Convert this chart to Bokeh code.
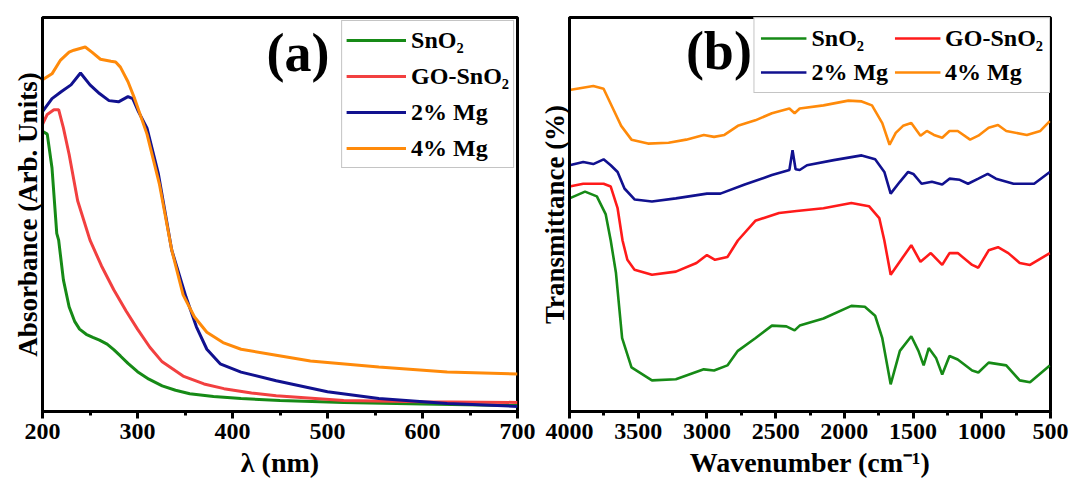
from bokeh.plotting import figure
from bokeh.layouts import row
from bokeh.models import Range1d, Label, FixedTicker
from bokeh.embed import file_html
from bokeh.resources import INLINE

# ---------------- Panel (a): UV-Vis absorbance ----------------
sno2_wl = [200, 205, 210, 215, 217, 222, 228, 234, 239, 246, 253, 260, 268, 275, 282, 290, 300, 312, 326, 340, 355, 380, 409, 450, 517, 600, 700]
sno2_abs = [0.711, 0.704, 0.618, 0.452, 0.435, 0.334, 0.266, 0.228, 0.209, 0.196, 0.188, 0.181, 0.171, 0.157, 0.141, 0.122, 0.101, 0.082, 0.065, 0.054, 0.045, 0.038, 0.033, 0.028, 0.023, 0.019, 0.015]

go_wl = [200, 205, 212, 217, 222, 228, 237, 250, 262, 275, 288, 300, 313, 326, 348, 370, 391, 420, 446, 517, 600, 700]
go_abs = [0.729, 0.754, 0.766, 0.766, 0.720, 0.653, 0.535, 0.435, 0.370, 0.309, 0.255, 0.209, 0.163, 0.126, 0.090, 0.070, 0.058, 0.047, 0.040, 0.028, 0.025, 0.023]

mg2_wl = [200, 210, 220, 230, 240, 250, 260, 270, 280, 290, 295, 301, 310, 322, 336, 351, 362, 373, 387, 409, 446, 500, 554, 626, 700]
mg2_abs = [0.761, 0.794, 0.812, 0.829, 0.859, 0.829, 0.807, 0.789, 0.786, 0.799, 0.794, 0.761, 0.719, 0.603, 0.410, 0.291, 0.215, 0.158, 0.121, 0.100, 0.078, 0.050, 0.033, 0.020, 0.013]

mg4_wl = [200, 210, 219, 228, 233, 245, 252, 261, 272, 277, 282, 290, 297, 310, 323, 336, 348, 360, 373, 390, 409, 446, 482, 554, 626, 700]
mg4_abs = [0.842, 0.857, 0.892, 0.912, 0.917, 0.925, 0.912, 0.894, 0.889, 0.887, 0.874, 0.837, 0.794, 0.704, 0.578, 0.410, 0.296, 0.240, 0.201, 0.175, 0.158, 0.143, 0.128, 0.113, 0.100, 0.095]

a_ticks = [200, 300, 400, 500, 600, 700]

# ---------------- Panel (b): FTIR transmittance ----------------
sno2_wn = [4000, 3887, 3801, 3737, 3700, 3662, 3617, 3549, 3400, 3226, 3023, 2948, 2851, 2775, 2648, 2527, 2422, 2362, 2325, 2152, 1949, 1851, 1776, 1724, 1663, 1596, 1513, 1461, 1423, 1386, 1333, 1288, 1235, 1175, 1070, 1025, 950, 822, 724, 649, 505]
sno2_t = [54.1, 55.8, 54.6, 50.1, 43.4, 35.2, 18.6, 11.2, 7.9, 8.2, 10.7, 10.4, 11.7, 15.4, 18.6, 21.8, 21.6, 20.6, 21.8, 23.6, 26.8, 26.6, 24.3, 18.6, 6.9, 15.4, 19.1, 15.4, 11.7, 16.1, 13.6, 9.4, 14.1, 13.2, 10.4, 9.9, 12.4, 11.7, 7.9, 7.4, 11.7]

go_wn = [4000, 3900, 3752, 3700, 3650, 3614, 3579, 3527, 3400, 3226, 3076, 3000, 2941, 2851, 2775, 2648, 2475, 2347, 2152, 1949, 1821, 1746, 1709, 1663, 1573, 1513, 1446, 1371, 1288, 1235, 1175, 1070, 1025, 950, 882, 807, 724, 649, 505]
go_t = [57.1, 57.8, 57.8, 57.1, 51.6, 43.4, 38.5, 36.0, 34.7, 35.5, 37.7, 39.7, 38.5, 39.2, 43.4, 48.4, 50.4, 50.9, 51.6, 52.9, 52.1, 49.1, 43.4, 34.7, 39.2, 42.2, 38.0, 40.2, 37.2, 40.2, 40.2, 37.2, 36.5, 40.9, 41.7, 40.2, 37.7, 37.2, 40.2]

mg2_wn = [4000, 3900, 3827, 3752, 3700, 3650, 3600, 3525, 3400, 3226, 3000, 2902, 2725, 2527, 2400, 2377, 2355, 2325, 2272, 2077, 1874, 1776, 1709, 1663, 1596, 1536, 1498, 1438, 1363, 1288, 1235, 1160, 1100, 1025, 957, 897, 769, 619, 505]
mg2_t = [62.5, 63.3, 62.8, 64.0, 62.5, 60.8, 56.6, 53.8, 53.3, 54.1, 55.3, 55.3, 57.6, 60.0, 61.3, 66.3, 61.5, 61.3, 62.5, 63.8, 65.0, 64.0, 60.8, 55.3, 58.3, 60.8, 60.3, 57.8, 58.3, 57.6, 59.1, 58.8, 57.8, 59.1, 60.3, 59.1, 57.8, 57.8, 60.8]

mg4_wn = [4000, 3827, 3752, 3677, 3624, 3549, 3429, 3279, 3151, 3023, 2948, 2873, 2775, 2648, 2527, 2400, 2362, 2325, 2152, 1971, 1874, 1799, 1724, 1671, 1626, 1573, 1513, 1446, 1400, 1348, 1288, 1235, 1175, 1085, 1025, 950, 882, 822, 672, 574, 505]
mg4_t = [81.6, 82.6, 81.9, 76.4, 72.5, 69.0, 68.0, 68.2, 69.0, 70.2, 69.7, 70.2, 72.5, 73.9, 75.7, 76.9, 75.7, 76.9, 77.7, 78.9, 78.7, 77.7, 73.2, 67.7, 70.7, 72.5, 73.2, 70.0, 71.2, 70.2, 69.5, 71.2, 71.2, 69.0, 70.0, 72.0, 72.7, 71.2, 70.2, 71.2, 73.7]

b_ticks = [4000, 3500, 3000, 2500, 2000, 1500, 1000, 500]

labels = ["SnO\u2082", "GO-SnO\u2082", "2% Mg", "4% Mg"]
GREEN, RED_A, RED_B, BLUE, ORANGE = "#168a16", "#f24040", "#ff1a1a", "#11118f", "#ff8a0a"
FONT = "Liberation Serif"


def style(p, xlabel, ylabel, ticks, minor):
    p.outline_line_color = "black"
    p.outline_line_width = 3
    p.xgrid.visible = False
    p.ygrid.visible = False
    p.background_fill_color = "white"
    p.border_fill_color = "white"
    xa = p.xaxis[0]
    xa.ticker = FixedTicker(ticks=ticks, minor_ticks=minor)
    xa.axis_line_width = 3
    xa.major_tick_line_width = 3
    xa.minor_tick_line_width = 3
    xa.major_tick_out = 7
    xa.major_tick_in = 0
    xa.minor_tick_out = 4
    xa.minor_tick_in = 0
    xa.major_label_text_font = FONT
    xa.major_label_text_font_style = "bold"
    xa.major_label_text_font_size = "24px"
    xa.major_label_text_color = "black"
    xa.major_label_standoff = 5
    xa.axis_label = xlabel
    xa.axis_label_text_font = FONT
    xa.axis_label_text_font_style = "bold"
    xa.axis_label_text_font_size = "28px"
    xa.axis_label_text_color = "black"
    xa.axis_label_standoff = 5
    ya = p.yaxis[0]
    ya.ticker = FixedTicker(ticks=[])
    ya.axis_line_width = 3
    ya.major_tick_out = 0
    ya.major_tick_in = 0
    ya.minor_tick_out = 0
    ya.minor_tick_in = 0
    ya.major_label_text_font_size = "0px"
    ya.major_label_standoff = 0
    ya.axis_label = ylabel
    ya.axis_label_text_font = FONT
    ya.axis_label_text_font_style = "bold"
    ya.axis_label_text_font_size = "27px"
    ya.axis_label_text_color = "black"
    ya.axis_label_standoff = 0


def style_legend(lg, glyph_w, pad, spacing, h):
    lg.location = "top_right"
    lg.padding = pad
    lg.spacing = spacing
    lg.glyph_width = glyph_w
    lg.glyph_height = h
    lg.label_height = h
    lg.label_standoff = 5
    lg.label_text_font = FONT
    lg.label_text_font_style = "bold"
    lg.label_text_font_size = "24px"
    lg.label_text_color = "black"
    lg.border_line_color = "#8a8a8a"
    lg.border_line_width = 1.5


# ---- figure a ----
pa = figure(width=536, height=488, output_backend="svg", toolbar_location=None,
            x_range=Range1d(200, 700), y_range=Range1d(0, 1),
            min_border_left=42, min_border_right=19, min_border_top=17, min_border_bottom=77)
style(pa, "\u03bb (nm)", "Absorbance (Arb. Units)", a_ticks, [250, 350, 450, 550, 650])
pa.line(sno2_wl, sno2_abs, color=GREEN, line_width=3, legend_label=labels[0])
pa.line(go_wl, go_abs, color=RED_A, line_width=3, legend_label=labels[1])
pa.line(mg2_wl, mg2_abs, color=BLUE, line_width=3, legend_label=labels[2])
pa.line(mg4_wl, mg4_abs, color=ORANGE, line_width=3, legend_label=labels[3])
la = pa.legend[0]
style_legend(la, 60, 4, 6, 30)
la.margin = 3
pa.add_layout(Label(x=469, y=0.911, text="(a)", text_font=FONT, text_font_style="bold",
                    text_color="black", text_font_size="54px",
                    text_align="center", text_baseline="middle"))

# ---- figure b ----
pb = figure(width=534, height=488, output_backend="svg", toolbar_location=None,
            x_range=Range1d(4000, 500), y_range=Range1d(0, 100),
            min_border_left=31, min_border_right=20, min_border_top=12, min_border_bottom=75)
style(pb, "Wavenumber (cm\u207b\u00b9)", "Transmittance (%)", b_ticks,
      [3750, 3250, 2750, 2250, 1750, 1250, 750])
pb.line(sno2_wn, sno2_t, color=GREEN, line_width=2.6, legend_label=labels[0])
pb.line(go_wn, go_t, color=RED_B, line_width=2.6, legend_label=labels[1])
pb.line(mg2_wn, mg2_t, color=BLUE, line_width=2.6, legend_label=labels[2])
pb.line(mg4_wn, mg4_t, color=ORANGE, line_width=2.6, legend_label=labels[3])
lb = pb.legend[0]
style_legend(lb, 46, 6, 6, 28)
lb.ncols = 2
lb.margin = 0
it = list(lb.items)
lb.items = [it[0], it[2], it[1], it[3]]
pb.add_layout(Label(x=2913, y=91.5, text="(b)", text_font=FONT, text_font_style="bold",
                    text_color="black", text_font_size="54px",
                    text_align="center", text_baseline="middle"))

layout = row(pa, pb)
open("out.html", "w").write(file_html(layout, INLINE))
